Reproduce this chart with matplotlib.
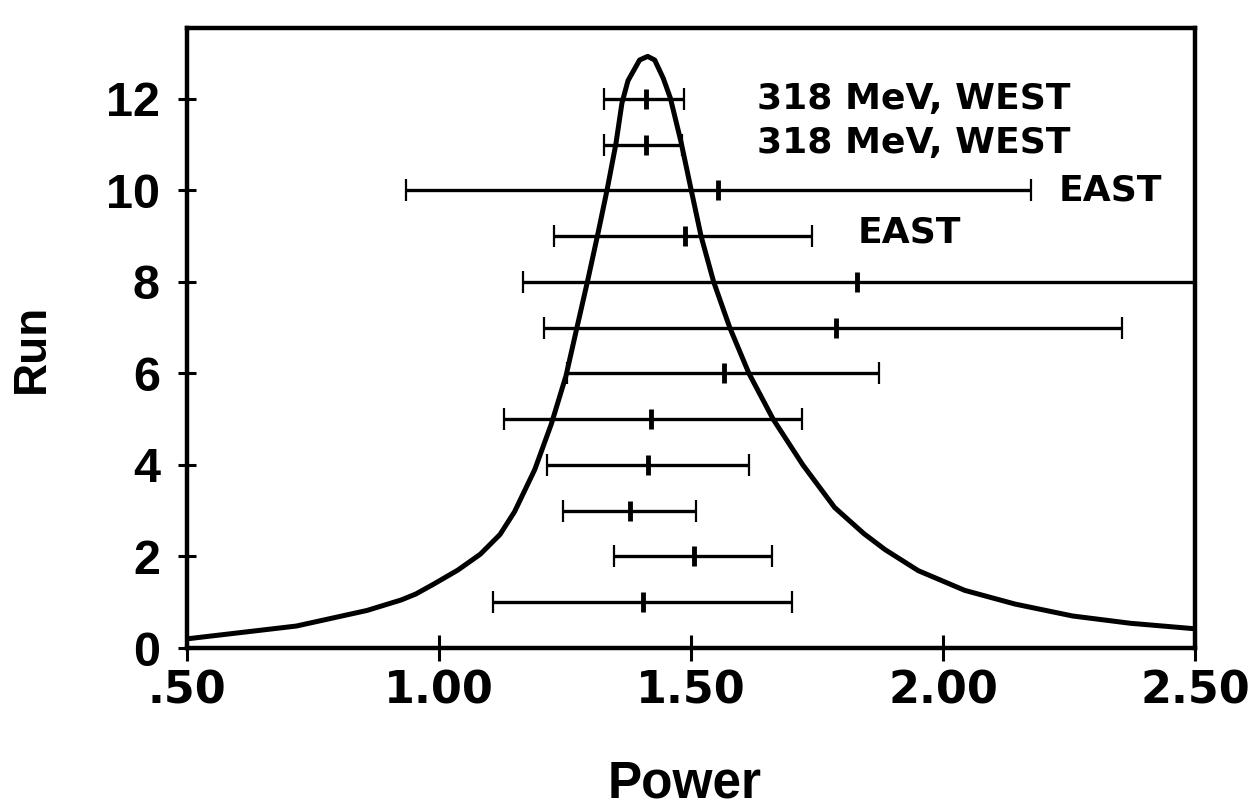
import numpy as np
import matplotlib
matplotlib.use("Agg")
import matplotlib.pyplot as plt

# measured runs: best value and interval in Power
runs = np.arange(1, 13)
center = np.array([1.405, 1.505, 1.378, 1.414, 1.421, 1.565,
                   1.787, 1.830, 1.488, 1.554, 1.410, 1.410])
low = np.array([1.108, 1.347, 1.247, 1.214, 1.128, 1.254,
                1.209, 1.166, 1.229, 0.934, 1.327, 1.327])
high = np.array([1.700, 1.660, 1.509, 1.615, 1.721, 1.873,
                 2.355, 2.600, 1.740, 2.175, 1.482, 1.487])

# resonance curve
curve_x = [0.50, 0.717, 0.857, 0.925, 0.954, 0.990, 1.037, 1.082, 1.121,
           1.150, 1.190, 1.223, 1.252, 1.273, 1.295, 1.316, 1.334, 1.351,
           1.363, 1.375, 1.398, 1.414, 1.428, 1.445, 1.459, 1.480, 1.500,
           1.520, 1.545, 1.577, 1.615, 1.663, 1.722, 1.785, 1.843, 1.885,
           1.951, 2.043, 2.143, 2.257, 2.372, 2.50]
curve_y = [0.20, 0.48, 0.82, 1.05, 1.18, 1.40, 1.70, 2.05, 2.48,
           2.98, 3.90, 4.90, 5.95, 6.97, 8.03, 9.09, 10.04, 11.02,
           11.91, 12.40, 12.85, 12.93, 12.85, 12.45, 12.02, 11.07, 10.03,
           9.00, 8.00, 7.00, 6.00, 5.00, 4.00, 3.07, 2.50, 2.15,
           1.69, 1.26, 0.96, 0.70, 0.54, 0.42]

# annotations: text, x, baseline y
notes = ["318 MeV, WEST", "318 MeV, WEST", "EAST", "EAST"]
note_x = [1.63, 1.63, 2.23, 1.83]
note_y = [11.78, 10.81, 9.78, 8.86]

x_ticks = [0.5, 1.0, 1.5, 2.0, 2.5]
x_ticklabels = [".50", "1.00", "1.50", "2.00", "2.50"]
y_ticks = [0, 2, 4, 6, 8, 10, 12]

plt.rcParams["font.family"] = ["Liberation Sans", "DejaVu Sans"]
plt.rcParams["font.weight"] = "bold"

fig = plt.figure(figsize=(12.57, 8.08), dpi=100)
ax = fig.add_axes([187 / 1257, 1 - 648 / 808, 1008 / 1257, 620 / 808])

ax.plot(curve_x, curve_y, color="black", lw=3.6, solid_joinstyle="round",
        solid_capstyle="butt")

ax.errorbar(center, runs, xerr=[center - low, high - center], fmt="none",
            ecolor="black", elinewidth=2.4, capsize=8, capthick=1.6)
ax.plot(center, runs, linestyle="none", marker="|", markersize=14,
        mew=3.5, color="black")

for txt, tx, ty in zip(notes, note_x, note_y):
    ax.text(tx, ty, txt, fontsize=26, fontweight="bold", ha="left",
            va="baseline", family="DejaVu Sans")

ax.set_xlim(0.5, 2.5)
ax.set_ylim(0, 13.55)

ax.set_xticks(x_ticks)
ax.set_xticklabels(x_ticklabels, fontsize=32, fontweight="bold",
                   family="DejaVu Sans")
ax.set_yticks(y_ticks)
ax.set_yticklabels([str(v) for v in y_ticks], fontsize=35, fontweight="bold")

ax.tick_params(axis="x", direction="inout", length=19, width=2.2, pad=6)
ax.tick_params(axis="y", direction="inout", length=13, width=2.2, pad=13)

for side in ["left", "right", "top", "bottom"]:
    ax.spines[side].set_linewidth(3.2)

fig.text(32 / 1257, 1 - 348 / 808, "Run", rotation=90, fontsize=33,
         fontweight="bold", ha="center", va="center")
fig.text(685 / 1257, 1 - 798 / 808, "Power", fontsize=37,
         fontweight="bold", ha="center", va="baseline")

fig.savefig("out.png", dpi=100)
